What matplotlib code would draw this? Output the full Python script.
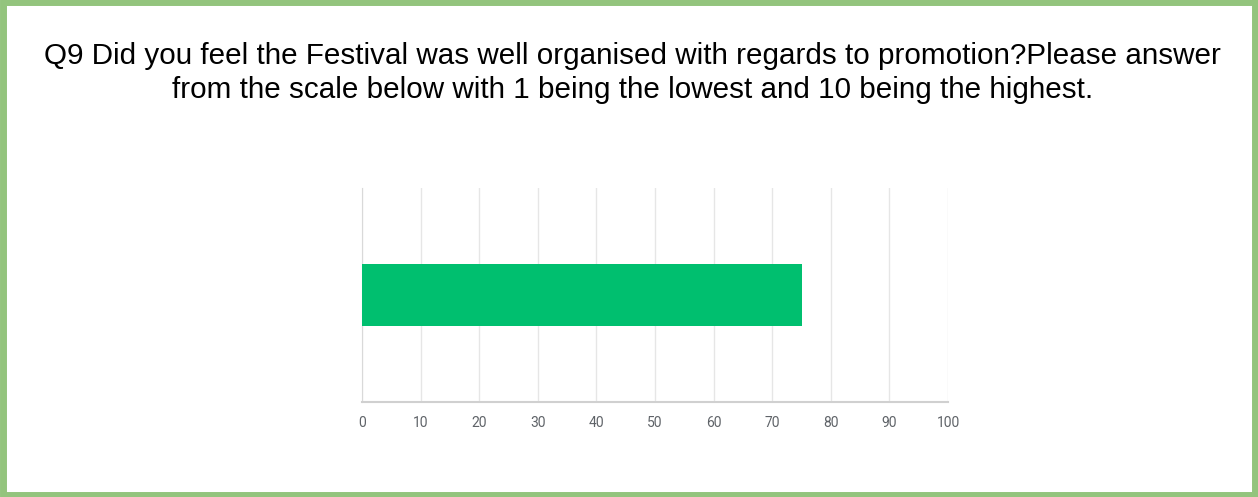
import matplotlib
matplotlib.use("Agg")
from matplotlib import pyplot as plt
from matplotlib.patches import Rectangle

# data
categories = [""]
values = [75]
xticks = [0, 10, 20, 30, 40, 50, 60, 70, 80, 90, 100]
title = ("Q9 Did you feel the Festival was well organised with regards to promotion?Please answer\n"
         "from the scale below with 1 being the lowest and 10 being the highest.")

fig = plt.figure(figsize=(12.58, 4.97), dpi=100)
fig.patch.set_facecolor("white")

# green frame round the figure
fig.patches.append(Rectangle((0.002, 0.005), 0.996, 0.99, transform=fig.transFigure,
                             fill=False, edgecolor="#93c47d", linewidth=5))

fig.text(0.503, 0.853, title, ha="center", va="center", fontsize=21.3,
         family="Liberation Sans", color="#000000", linespacing=1.24)

ax = fig.add_axes([0.2878, 0.1911, 0.4658, 0.4306])
ax.barh(range(len(categories)), values, height=0.294, color="#00bf6f", zorder=3)
ax.set_xlim(0, 100)
ax.set_ylim(-0.5, 0.5)
ax.set_xticks(xticks)
ax.set_xticklabels([str(t) for t in xticks], fontsize=10, color="#5f6368", family="Roboto")
ax.set_yticks([])
ax.tick_params(axis="x", length=0, pad=10)
ax.grid(axis="x", color="#e6e6e6", linewidth=1, zorder=0)
for s in ["top", "right"]:
    ax.spines[s].set_visible(False)
ax.spines["left"].set_color("#d9d9d9")
ax.spines["bottom"].set_color("#d0d0d0")
ax.spines["bottom"].set_linewidth(1.5)

fig.savefig("out.png", dpi=100)
